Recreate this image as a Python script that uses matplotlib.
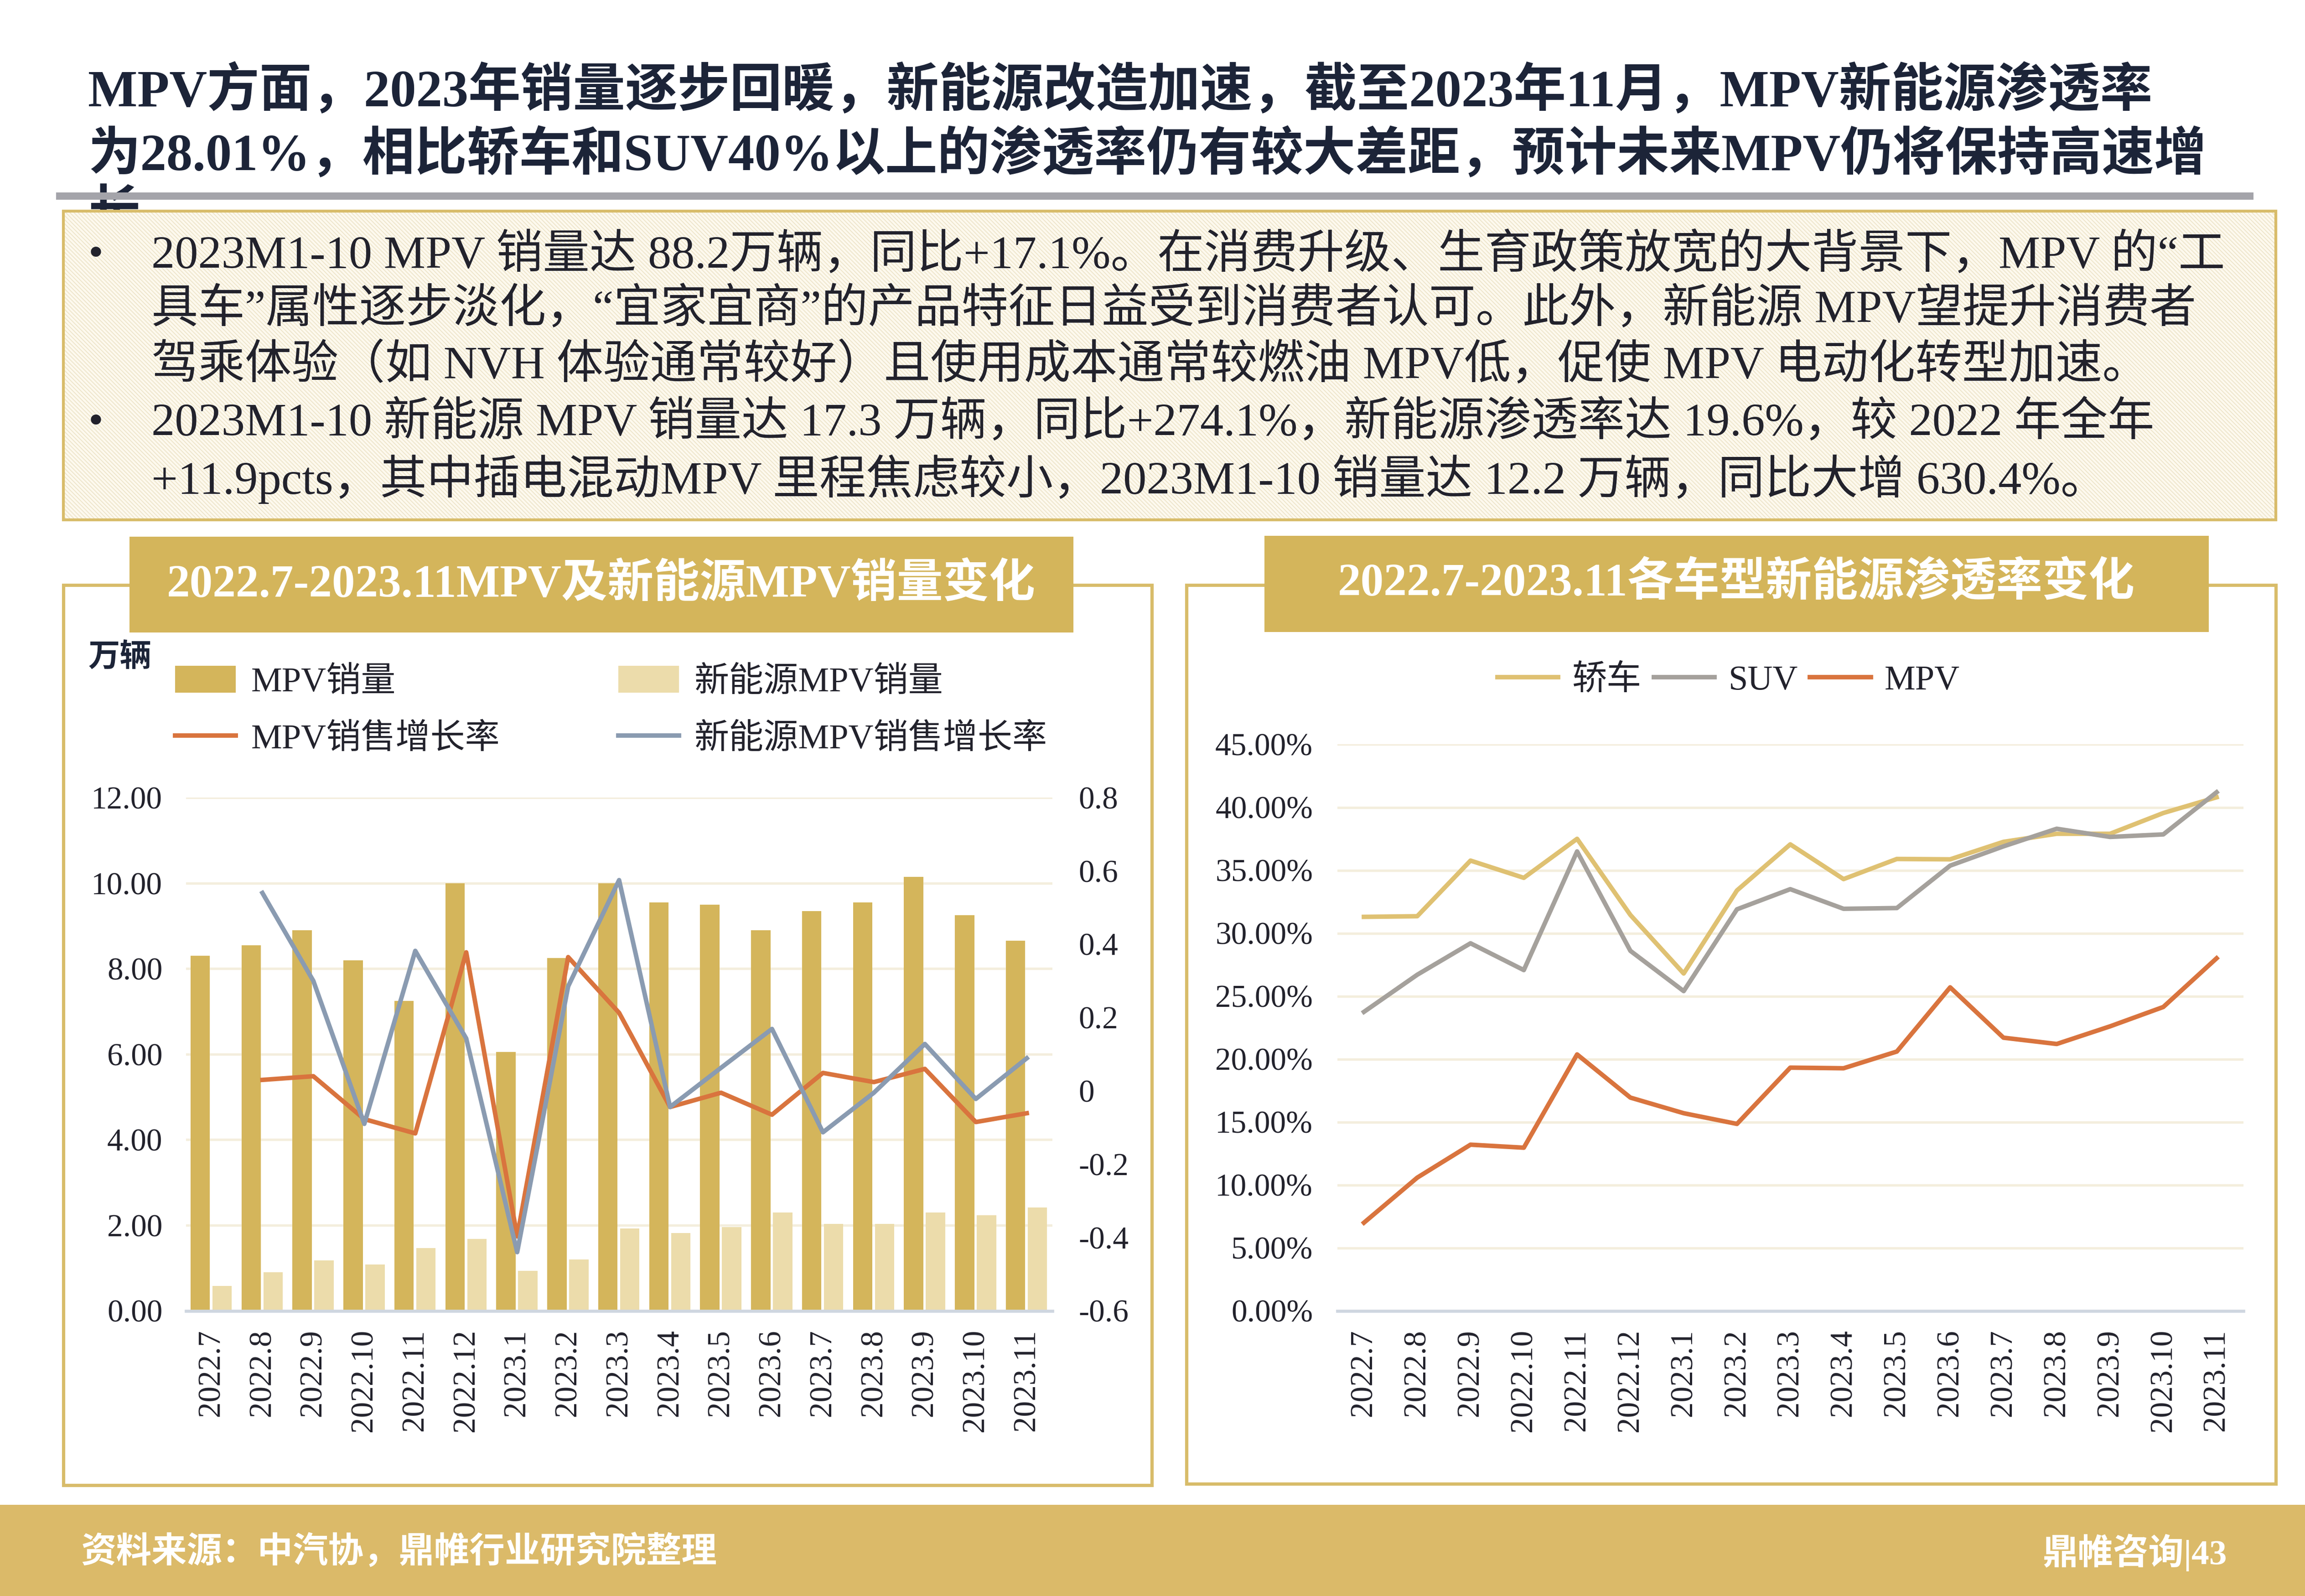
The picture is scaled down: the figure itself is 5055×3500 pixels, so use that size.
import matplotlib
matplotlib.use('Agg')
import matplotlib.pyplot as plt
from matplotlib.patches import Rectangle
import numpy as np

plt.rcParams['font.family'] = ['Liberation Serif', 'Noto Sans CJK SC', 'DejaVu Sans']
plt.rcParams['hatch.linewidth'] = 0.4

# ---------------- data ----------------
months = ['2022.7', '2022.8', '2022.9', '2022.10', '2022.11', '2022.12',
          '2023.1', '2023.2', '2023.3', '2023.4', '2023.5', '2023.6',
          '2023.7', '2023.8', '2023.9', '2023.10', '2023.11']

# 万辆
mpv_sales = [8.30, 8.55, 8.90, 8.20, 7.25, 10.00, 6.05, 8.25, 10.00,
             9.55, 9.50, 8.90, 9.35, 9.55, 10.15, 9.25, 8.65]
nev_mpv_sales = [0.58, 0.90, 1.18, 1.08, 1.47, 1.68, 0.93, 1.20, 1.93,
                 1.82, 1.96, 2.30, 2.03, 2.03, 2.30, 2.23, 2.42]

# growth rates (right axis)
mpv_growth = [np.nan, 0.03, 0.04, -0.077, -0.116, 0.378, -0.397, 0.365, 0.213,
              -0.044, -0.005, -0.065, 0.049, 0.024, 0.06, -0.085, -0.061]
nev_mpv_growth = [np.nan, 0.54, 0.30, -0.09, 0.382, 0.143, -0.44, 0.285, 0.575,
                  -0.044, 0.063, 0.169, -0.113, -0.005, 0.128, -0.022, 0.089]

# NEV penetration, %
sedan_rate = [31.3, 31.35, 35.77, 34.4, 37.5, 31.45, 26.8, 33.4, 37.06,
              34.3, 35.9, 35.87, 37.26, 37.9, 37.9, 39.55, 40.8]
suv_rate = [23.75, 26.7, 29.2, 27.07, 36.5, 28.6, 25.4, 31.9, 33.5,
            31.94, 32.0, 35.37, 36.9, 38.3, 37.65, 37.85, 41.2]
mpv_rate = [7.0, 10.58, 13.2, 12.96, 20.37, 16.94, 15.7, 14.85, 19.32,
            19.27, 20.6, 25.7, 21.7, 21.2, 22.6, 24.14, 28.01]

left_ticks = [0, 2, 4, 6, 8, 10, 12]
right_ticks = [-0.6, -0.4, -0.2, 0, 0.2, 0.4, 0.6, 0.8]
right_tick_labels = ['-0.6', '-0.4', '-0.2', '0', '0.2', '0.4', '0.6', '0.8']
rate_ticks = [0, 5, 10, 15, 20, 25, 30, 35, 40, 45]

title_lines = ['MPV方面，2023年销量逐步回暖，新能源改造加速，截至2023年11月，MPV新能源渗透率',
               '为28.01%，相比轿车和SUV40%以上的渗透率仍有较大差距，预计未来MPV仍将保持高速增',
               '长']
body_lines = ['2023M1-10 MPV 销量达 88.2万辆，同比+17.1%。在消费升级、生育政策放宽的大背景下，MPV 的“工',
              '具车”属性逐步淡化，“宜家宜商”的产品特征日益受到消费者认可。此外，新能源 MPV望提升消费者',
              '驾乘体验（如 NVH 体验通常较好）且使用成本通常较燃油 MPV低，促使 MPV 电动化转型加速。',
              '2023M1-10 新能源 MPV 销量达 17.3 万辆，同比+274.1%，新能源渗透率达 19.6%，较 2022 年全年',
              '+11.9pcts，其中插电混动MPV 里程焦虑较小，2023M1-10 销量达 12.2 万辆，同比大增 630.4%。']
bullet_rows = [0, 3]

# ---------------- colours ----------------
GOLD = '#d4b55b'
GOLD_LIGHT = '#ecdcab'
FOOT = '#dbba69'
NAVY = '#1c2438'
TXT = '#22222c'
ORANGE = '#d9743e'
BLUEGRAY = '#8a9bb1'
SEDAN = '#dfc172'
SUVC = '#a5a19c'
GRID = '#f4eedd'

# layout grid in "screen" pixels
W, H = 1568.0, 1085.7


def box(x0, y0, x1, y1):
    return [x0 / W, 1 - y1 / H, (x1 - x0) / W, (y1 - y0) / H]


fig = plt.figure(figsize=(5055 / 322.4, 3500 / 322.4), dpi=322.4)
fig.patch.set_facecolor('white')

bg = fig.add_axes([0, 0, 1, 1])
bg.set_xlim(0, W)
bg.set_ylim(H, 0)
bg.axis('off')

# headline
bg.text(60, 62, title_lines[0], fontsize=25.6, fontweight='bold', color=NAVY, va='center')
bg.text(60, 105.5, title_lines[1], fontsize=25.6, fontweight='bold', color=NAVY, va='center')
band = Rectangle((0, 110), W, 33.6, transform=bg.transData)
last = bg.text(60, 146, title_lines[2], fontsize=25.6, fontweight='bold', color=NAVY,
               va='center', zorder=1)
last.set_clip_path(band)
bg.add_patch(Rectangle((38, 131), 1495, 5, color='#a4a4aa', lw=0, zorder=3))

# text box
bg.add_patch(Rectangle((43, 143.6), 1505, 210, facecolor='#fdf9ee', edgecolor='#ede4c9',
                       hatch='\\' * 12, lw=0, zorder=3))
bg.add_patch(Rectangle((43, 143.6), 1505, 210, facecolor='none', edgecolor='#d8bc6a',
                       lw=1.4, zorder=4))
body_y = [174, 211, 249, 288, 326]
for i, (line, yy) in enumerate(zip(body_lines, body_y)):
    if i in bullet_rows:
        bg.text(60, yy, '•', fontsize=21, color=TXT, va='center', zorder=5)
    bg.text(103, yy, line, fontsize=22.9, color=TXT, va='center', zorder=5)

# panels and their titles
for (x0, x1, y1) in [(43.1, 783.6, 1010.4), (807, 1548, 1009.5)]:
    bg.add_patch(Rectangle((x0, 398), x1 - x0, y1 - 398, facecolor='none',
                           edgecolor='#d8bc6a', lw=1.6, zorder=2))
bg.add_patch(Rectangle((88.2, 365.2), 642.1, 65.1, color=GOLD, lw=0, zorder=3))
bg.add_patch(Rectangle((860.3, 364.4), 642.1, 65.5, color=GOLD, lw=0, zorder=3))
bg.text(409, 398, '2022.7-2023.11MPV及新能源MPV销量变化', fontsize=22.6, fontweight='bold',
        color='white', ha='center', va='center', zorder=4)
bg.text(1181, 397, '2022.7-2023.11各车型新能源渗透率变化', fontsize=22.6, fontweight='bold',
        color='white', ha='center', va='center', zorder=4)

# footer
bg.add_patch(Rectangle((0, 1023.6), W, H - 1023.6, color=FOOT, lw=0))
bg.text(55, 1056, '资料来源：中汽协，鼎帷行业研究院整理', fontsize=17.3, fontweight='bold',
        color='white', va='center')
bg.text(1515, 1056, '鼎帷咨询|43', fontsize=17.3, fontweight='bold', color='white',
        va='center', ha='right')

# ---------------- left chart ----------------
x = np.arange(len(months))
ax1 = fig.add_axes(box(126.5, 542.6, 715.8, 891.7))
ax1.patch.set_alpha(0)
b1 = ax1.bar(x - 0.22, mpv_sales, 0.38, color=GOLD, zorder=2)
b2 = ax1.bar(x + 0.21, nev_mpv_sales, 0.38, color=GOLD_LIGHT, zorder=2)
ax1.set_xlim(-0.5, len(months) - 0.5)
ax1.set_ylim(0, 12)
ax1.set_yticks(left_ticks)
ax1.set_yticklabels(['%.2f' % v for v in left_ticks])
ax1.yaxis.grid(True, color=GRID, lw=1.2)
ax1.set_axisbelow(True)
ax1.set_xticks(x)
ax1.set_xticklabels(months, rotation=90)
for s in ['top', 'right', 'left']:
    ax1.spines[s].set_visible(False)
ax1.spines['bottom'].set_color('#cfd6e0')
ax1.spines['bottom'].set_linewidth(1.5)
ax1.tick_params(axis='y', length=0, pad=11.5, labelsize=15.5, labelcolor=TXT)
ax1.tick_params(axis='x', length=0, pad=9, labelsize=15.5, labelcolor=TXT)

ax2 = ax1.twinx()
l1, = ax2.plot(x, mpv_growth, color=ORANGE, lw=2.2)
l2, = ax2.plot(x, nev_mpv_growth, color=BLUEGRAY, lw=2.2)
ax2.set_ylim(-0.6, 0.8)
ax2.set_yticks(right_ticks)
ax2.set_yticklabels(right_tick_labels)
for s in ax2.spines.values():
    s.set_visible(False)
ax2.tick_params(axis='y', length=0, pad=13, labelsize=15.5, labelcolor=TXT)

bg.text(60, 448, '万辆', fontsize=15.5, fontweight='bold', color=NAVY, va='center')
bg.legend([b1, l1, b2, l2], ['MPV销量', 'MPV销售增长率', '新能源MPV销量', '新能源MPV销售增长率'],
          loc='upper left', bbox_to_anchor=(119 / W, 1 - 453 / H), bbox_transform=fig.transFigure,
          ncol=2, frameon=False, fontsize=17, handlelength=1.75, handleheight=0.8,
          handletextpad=0.45, columnspacing=3.4, labelspacing=0.7, borderpad=0, borderaxespad=0,
          labelcolor=TXT)

# ---------------- right chart ----------------
ax3 = fig.add_axes(box(909.7, 506.4, 1526, 891.7))
ax3.patch.set_alpha(0)
ax3.plot(x, sedan_rate, color=SEDAN, lw=2.2, label='轿车')
ax3.plot(x, suv_rate, color=SUVC, lw=2.2, label='SUV')
ax3.plot(x, mpv_rate, color=ORANGE, lw=2.2, label='MPV')
ax3.set_xlim(-0.5, len(months) - 0.5)
ax3.set_ylim(0, 45)
ax3.set_yticks(rate_ticks)
ax3.set_yticklabels(['%.2f%%' % v for v in rate_ticks])
ax3.yaxis.grid(True, color=GRID, lw=1.2)
ax3.set_axisbelow(True)
ax3.set_xticks(x)
ax3.set_xticklabels(months, rotation=90)
for s in ['top', 'right', 'left']:
    ax3.spines[s].set_visible(False)
ax3.spines['bottom'].set_color('#cfd6e0')
ax3.spines['bottom'].set_linewidth(1.5)
ax3.tick_params(axis='y', length=0, pad=12, labelsize=15.5, labelcolor=TXT)
ax3.tick_params(axis='x', length=0, pad=9, labelsize=15.5, labelcolor=TXT)
ax3.legend(loc='center', bbox_to_anchor=(1176 / W, 1 - 463 / H), bbox_transform=fig.transFigure,
           ncol=3, frameon=False, fontsize=17, handlelength=1.75, handletextpad=0.4,
           columnspacing=0.35, borderpad=0, labelcolor=TXT)

fig.savefig('out.png', dpi=322.4, facecolor='white')
